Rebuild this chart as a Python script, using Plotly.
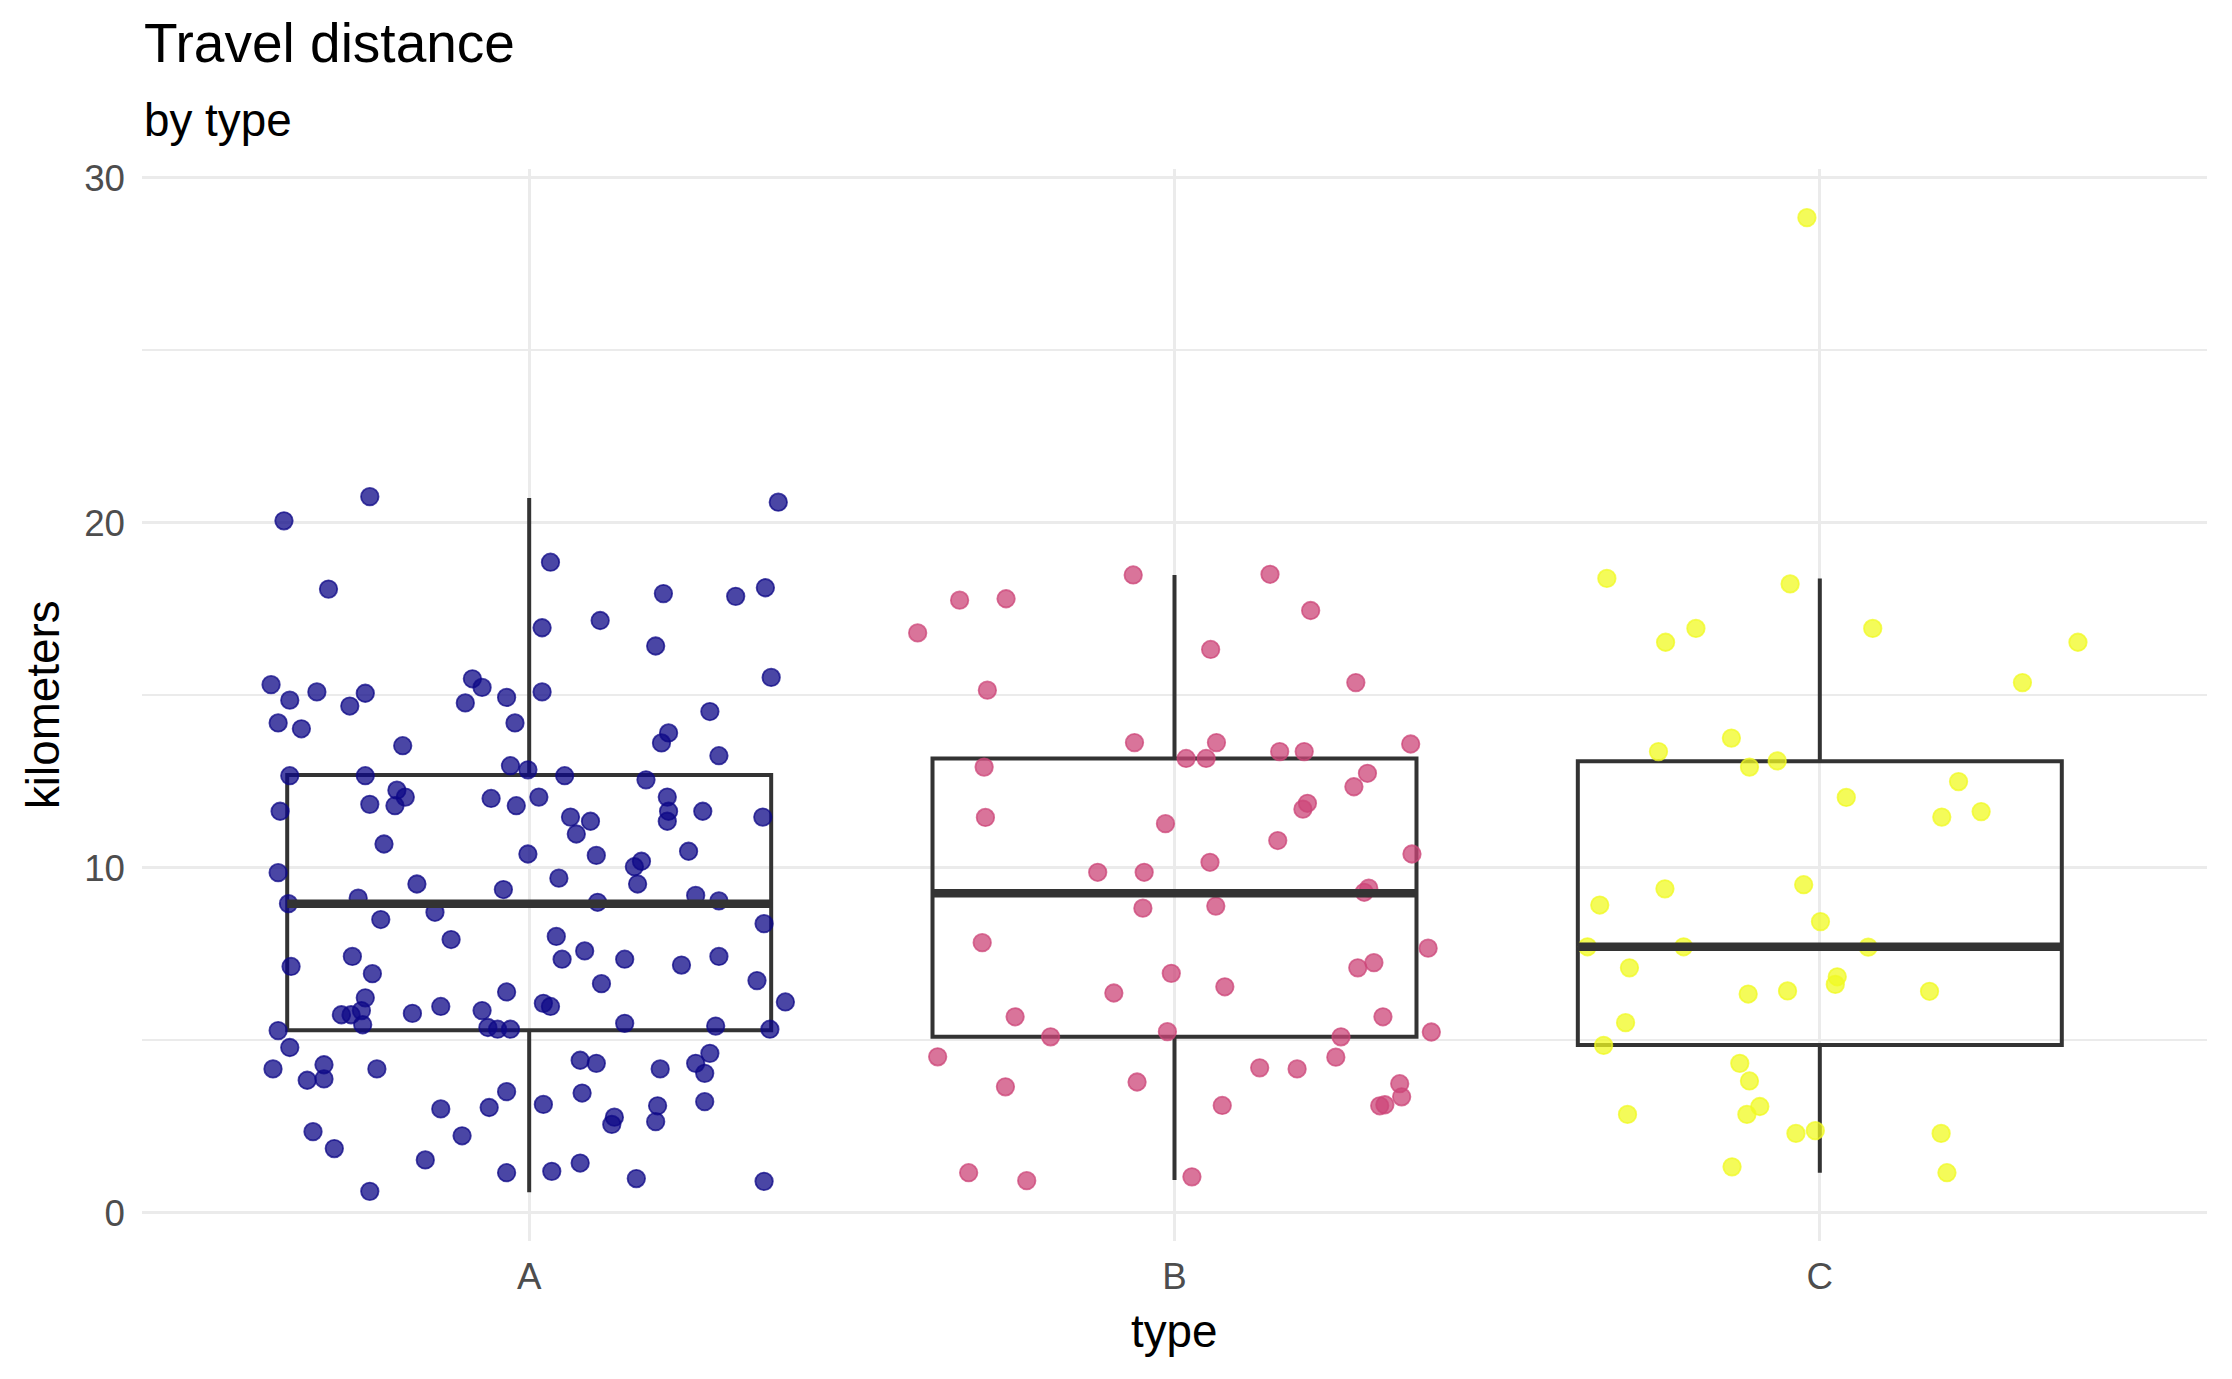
import plotly.graph_objects as go

categories = ["A", "B", "C"]

# jitter offsets (in category units) and distances (km)
a_jitter = [-0.380, -0.247, 0.386, -0.311, 0.033, 0.366, 0.208, 0.320, 0.110, 0.020, 0.196, 0.375, -0.400, -0.329,
            -0.254, -0.371, -0.278, -0.088, -0.073, -0.099, -0.035, 0.020, 0.280, -0.389, -0.353, -0.022, 0.216,
            0.205, -0.196, 0.294, -0.029, -0.002, -0.371, -0.254, 0.055, 0.181, -0.205, -0.192, -0.247, -0.208,
            -0.059, -0.020, 0.015, 0.214, -0.386, 0.216, 0.269, 0.064, 0.095, 0.214, 0.362, 0.073, -0.225, 0.247,
            -0.002, 0.104, 0.174, 0.163, -0.389, 0.046, -0.174, 0.168, -0.040, 0.258, -0.265, -0.373, 0.106, 0.294,
            -0.146, -0.230, 0.364, -0.121, 0.042, 0.086, -0.274, 0.148, 0.051, 0.294, 0.236, -0.369, -0.243, 0.353,
            0.112, -0.035, -0.254, 0.397, 0.022, 0.033, -0.137, -0.291, -0.276, -0.260, -0.181, -0.073, -0.258,
            -0.064, -0.049, -0.029, 0.148, 0.289, 0.373, -0.389, -0.371, 0.280, -0.397, -0.318, -0.236, 0.079,
            0.104, 0.203, 0.258, 0.272, -0.344, -0.318, -0.035, 0.082, -0.137, -0.062, 0.022, 0.199, 0.272, 0.132,
            0.128, 0.196, -0.335, -0.104, -0.302, -0.161, 0.079, -0.035, 0.035, 0.166, 0.364, -0.247]
a_km = [20.06, 20.76, 20.60, 18.08, 18.86, 18.12, 17.95, 17.87, 17.17, 16.96, 16.43, 15.52, 15.31, 15.10,
        15.06, 14.86, 14.69, 15.48, 15.23, 14.78, 14.94, 15.10, 14.53, 14.20, 14.03, 14.20, 13.91,
        13.62, 13.54, 13.25, 12.96, 12.84, 12.67, 12.67, 12.67, 12.55, 12.25, 12.05, 11.84, 11.80,
        12.01, 11.80, 12.05, 12.05, 11.64, 11.64, 11.64, 11.47, 11.35, 11.35, 11.47, 10.98, 10.69, 10.48,
        10.40, 10.36, 10.19, 10.03, 9.86, 9.70, 9.53, 9.53, 9.37, 9.20, 9.12, 8.96, 9.00, 9.04,
        8.71, 8.50, 8.38, 7.92, 8.01, 7.59, 7.43, 7.35, 7.35, 7.43, 7.18, 7.14, 6.93, 6.73,
        6.64, 6.40, 6.23, 6.11, 6.07, 5.98, 5.98, 5.74, 5.74, 5.86, 5.78, 5.86, 5.45,
        5.37, 5.32, 5.32, 5.49, 5.41, 5.32, 5.28, 4.79, 4.62, 4.17, 4.29, 4.17, 4.42,
        4.33, 4.17, 4.33, 4.04, 3.84, 3.88, 3.51, 3.47, 3.01, 3.05, 3.14, 3.10, 3.22, 2.77,
        2.56, 2.64, 2.35, 2.23, 1.86, 1.53, 1.44, 1.16, 1.20, 0.99, 0.91, 0.62]

b_jitter = [-0.064, 0.148, -0.333, -0.261, 0.211, -0.398, 0.056, 0.281, -0.290, -0.062, 0.065, 0.366, 0.163,
            0.201, 0.018, 0.049, -0.295, 0.299, 0.278, 0.206, 0.199, -0.293, -0.014, 0.160, 0.368, 0.055,
            -0.119, -0.047, 0.301, 0.294, -0.049, 0.064, -0.298, 0.393, 0.309, 0.284, -0.005, 0.078, -0.094,
            -0.247, 0.323, 0.398, -0.011, -0.192, 0.258, -0.367, 0.250, 0.132, 0.190, -0.058, -0.262, 0.349,
            0.352, 0.318, 0.326, 0.074, -0.319, -0.229, 0.027]
b_km = [18.49, 18.51, 17.76, 17.80, 17.46, 16.81, 16.33, 15.37, 15.15, 13.63, 13.63, 13.59, 13.37,
        13.37, 13.17, 13.17, 12.92, 12.74, 12.35, 11.87, 11.70, 11.46, 11.28, 10.79, 10.40, 10.16,
        9.87, 9.87, 9.41, 9.29, 8.83, 8.89, 7.83, 7.67, 7.25, 7.10, 6.94, 6.55, 6.37,
        5.68, 5.68, 5.24, 5.25, 5.10, 5.10, 4.52, 4.51, 4.20, 4.17, 3.79, 3.65, 3.74,
        3.36, 3.10, 3.13, 3.11, 1.16, 0.93, 1.04]

c_jitter = [-0.020, -0.330, -0.046, -0.239, -0.192, 0.082, 0.400, 0.314, -0.250, -0.137, -0.109, -0.066,
            0.215, 0.041, 0.189, 0.250, -0.240, -0.341, -0.025, 0.001, -0.360, -0.211, 0.075, -0.295,
            0.027, 0.024, -0.111, -0.050, 0.170, -0.301, -0.335, -0.124, -0.109, -0.093, -0.113, -0.298,
            -0.037, -0.007, 0.188, -0.136, 0.197]
c_km = [28.85, 18.39, 18.23, 16.54, 16.94, 16.94, 16.54, 15.37, 13.37, 13.76, 12.92, 13.10,
        12.50, 12.04, 11.47, 11.63, 9.39, 8.92, 9.51, 8.44, 7.71, 7.71, 7.70, 7.10,
        6.84, 6.62, 6.34, 6.43, 6.42, 5.51, 4.85, 4.33, 3.82, 3.08, 2.85, 2.85,
        2.30, 2.38, 2.30, 1.33, 1.16]

# box statistics
box_lower = [0.59, 0.95, 1.16]
box_q1 = [5.29, 5.10, 4.86]
box_median = [8.96, 9.26, 7.71]
box_q3 = [12.69, 13.17, 13.09]
box_upper = [20.72, 18.49, 18.39]

colors = ["rgba(13,8,135,0.75)", "rgba(204,70,120,0.75)", "rgba(240,249,33,0.75)"]
FONT = "Liberation Sans, Arial, sans-serif"
BOX_W = 0.75

fig = go.Figure()

groups = [(a_jitter, a_km), (b_jitter, b_km), (c_jitter, c_km)]
for i, (jit, km) in enumerate(groups):
    fig.add_trace(go.Scatter(
        x=[i + j for j in jit], y=km, mode="markers",
        marker=dict(size=17.5, color=colors[i], line=dict(color=colors[i], width=1.8)),
        hoverinfo="skip", showlegend=False))

fig.add_trace(go.Box(
    x=[0, 1, 2], q1=box_q1, median=box_median, q3=box_q3,
    lowerfence=box_lower, upperfence=box_upper,
    width=BOX_W, fillcolor="rgba(0,0,0,0)", boxpoints=False,
    line=dict(color="#333333", width=4), whiskerwidth=0,
    hoverinfo="skip", showlegend=False))

for i, m in enumerate(box_median):
    fig.add_trace(go.Scatter(
        x=[i - BOX_W / 2, i + BOX_W / 2], y=[m, m], mode="lines",
        line=dict(color="#333333", width=8.5), hoverinfo="skip", showlegend=False))

grid = "#EBEBEB"
fig.update_layout(
    width=2216, height=1363,
    margin=dict(l=134, r=17, t=161, b=130),
    plot_bgcolor="white", paper_bgcolor="white",
    showlegend=False,
    font=dict(family=FONT),
    xaxis=dict(range=[-0.6, 2.6], tickvals=[0, 1, 2], ticktext=categories,
               showgrid=True, gridcolor=grid, gridwidth=3.3, zeroline=False, showline=False,
               ticks="", tickfont=dict(size=36.7, color="#4D4D4D", family=FONT),
               ticklabelstandoff=10),
    yaxis=dict(range=[-0.82, 30.26], tickvals=[0, 10, 20, 30],
               showgrid=True, gridcolor=grid, gridwidth=3.3, zeroline=False, showline=False,
               ticks="", tickfont=dict(size=36.7, color="#4D4D4D", family=FONT),
               ticklabelstandoff=16,
               minor=dict(tickvals=[5, 15, 25], showgrid=True, gridcolor=grid, gridwidth=1.7)),
    annotations=[
        dict(text="Travel distance", xref="paper", yref="paper", x=0, y=1.1175,
             xanchor="left", yanchor="middle", showarrow=False,
             font=dict(size=55, color="black", family=FONT)),
        dict(text="by type", xref="paper", yref="paper", x=0, y=1.0448,
             xanchor="left", yanchor="middle", showarrow=False,
             font=dict(size=45.8, color="black", family=FONT)),
        dict(text="type", xref="paper", yref="paper", x=0.5, y=-0.084,
             xanchor="center", yanchor="middle", showarrow=False,
             font=dict(size=45.8, color="black", family=FONT)),
        dict(text="kilometers", xref="paper", yref="paper", x=-0.0479, y=0.5,
             xanchor="center", yanchor="middle", showarrow=False, textangle=-90,
             font=dict(size=45.8, color="black", family=FONT)),
    ],
)

fig.write_html("out.html")
